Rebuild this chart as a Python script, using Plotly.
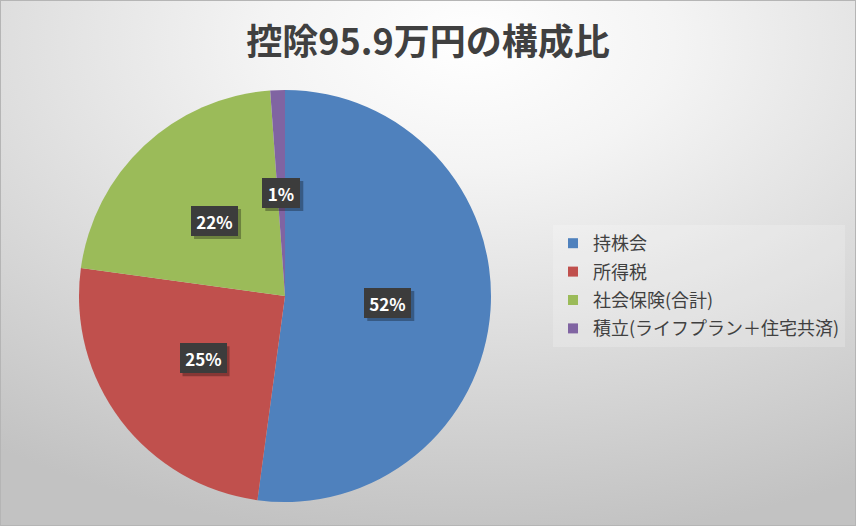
import base64
import math
import plotly.graph_objects as go

# 控除の内訳 (万円)
labels = ["持株会", "所得税", "社会保険(合計)", "積立(ライフプラン＋住宅共済)"]
values = [50.0, 24.0, 20.8, 1.1]
colors = ["#4F81BD", "#C0504D", "#9BBB59", "#8064A2"]

W, H = 856, 526
dom_x = [79 / W, 491 / W]
dom_y = [1 - 502 / H, 1 - 90 / H]

# radial gradient background as an svg image
svg = f"""<svg xmlns='http://www.w3.org/2000/svg' width='{W}' height='{H}'>
<defs><radialGradient id='g' cx='0.55' cy='0.08' r='0.95' gradientUnits='objectBoundingBox'>
<stop offset='0' stop-color='#ffffff'/><stop offset='0.25' stop-color='#f4f4f4'/>
<stop offset='1' stop-color='#c2c2c2'/></radialGradient></defs>
<rect width='{W}' height='{H}' fill='url(#g)'/>
<rect x='0.5' y='0.5' width='{W - 1}' height='{H - 1}' fill='none' stroke='#b5b5b5'/>
</svg>"""
bg = "data:image/svg+xml;base64," + base64.b64encode(svg.encode()).decode()

fig = go.Figure(go.Pie(
    labels=labels, values=values, sort=False, direction="clockwise", rotation=0,
    marker=dict(colors=colors, line=dict(width=0)),
    textinfo="none", hoverinfo="label+percent", showlegend=False,
    domain=dict(x=dom_x, y=dom_y),
))

# legend entries as dummy square markers (gives control over row spacing)
for lab, c in zip(labels, colors):
    fig.add_trace(go.Scatter(
        x=[None], y=[None], mode="markers", name=lab, legendgroup=lab,
        marker=dict(symbol="square", size=10, color=c),
    ))

# data labels in dark boxes, at half the radius along each slice's mid angle
total = sum(values)
cx = (dom_x[0] + dom_x[1]) / 2 * W
cy = (1 - (dom_y[0] + dom_y[1]) / 2) * H
r = min((dom_x[1] - dom_x[0]) * W, (dom_y[1] - dom_y[0]) * H) / 2
cum = 0
for v in values:
    th = 2 * math.pi * (cum + v / 2) / total
    cum += v
    px = cx + 0.5 * r * math.sin(th)
    py = cy - 0.5 * r * math.cos(th)
    txt = f"{round(v / total * 100)}%"
    bw = 20 + 9 * len(txt)
    # drop shadow behind the label box
    fig.add_shape(
        type="rect", xref="paper", yref="paper", xsizemode="pixel", ysizemode="pixel",
        xanchor=px / W, yanchor=1 - py / H,
        x0=-bw / 2 + 3, x1=bw / 2 + 3, y0=-15 - 3, y1=15 - 3,
        fillcolor="rgba(0,0,0,0.3)", line=dict(width=0), layer="above",
    )
    fig.add_annotation(
        x=px / W, y=1 - py / H, xref="paper", yref="paper", showarrow=False,
        xanchor="center", yanchor="middle", width=bw, height=30,
        text=f"<b>{txt}</b>",
        font=dict(family="Noto Sans CJK JP", size=17, color="white"),
        bgcolor="#3c3c3c", borderpad=0, borderwidth=0,
    )

fig.update_layout(
    width=W, height=H,
    margin=dict(l=0, r=0, t=0, b=0),
    paper_bgcolor="#d8d8d8",
    plot_bgcolor="rgba(0,0,0,0)",
    xaxis=dict(visible=False), yaxis=dict(visible=False),
    title=dict(text="<b>控除95.9万円の構成比</b>", x=0.5, xanchor="center",
               y=1 - 42 / H, yanchor="middle",
               font=dict(family="Noto Sans CJK JP", size=36, color="#404040")),
    legend=dict(x=0.646, xanchor="left", y=1 - 286 / H, yanchor="middle",
                font=dict(family="Noto Sans CJK JP", size=18, color="#404040"),
                bgcolor="rgba(255,255,255,0.2)", itemwidth=30,
                traceorder="grouped", tracegroupgap=2),
    images=[dict(source=bg, xref="paper", yref="paper", x=0, y=1, sizex=1, sizey=1,
                 xanchor="left", yanchor="top", sizing="stretch", layer="below")],
    font=dict(family="Noto Sans CJK JP"),
)

fig.write_html("out.html", config={"displayModeBar": False},
               post_script="document.body.style.margin='0';")
